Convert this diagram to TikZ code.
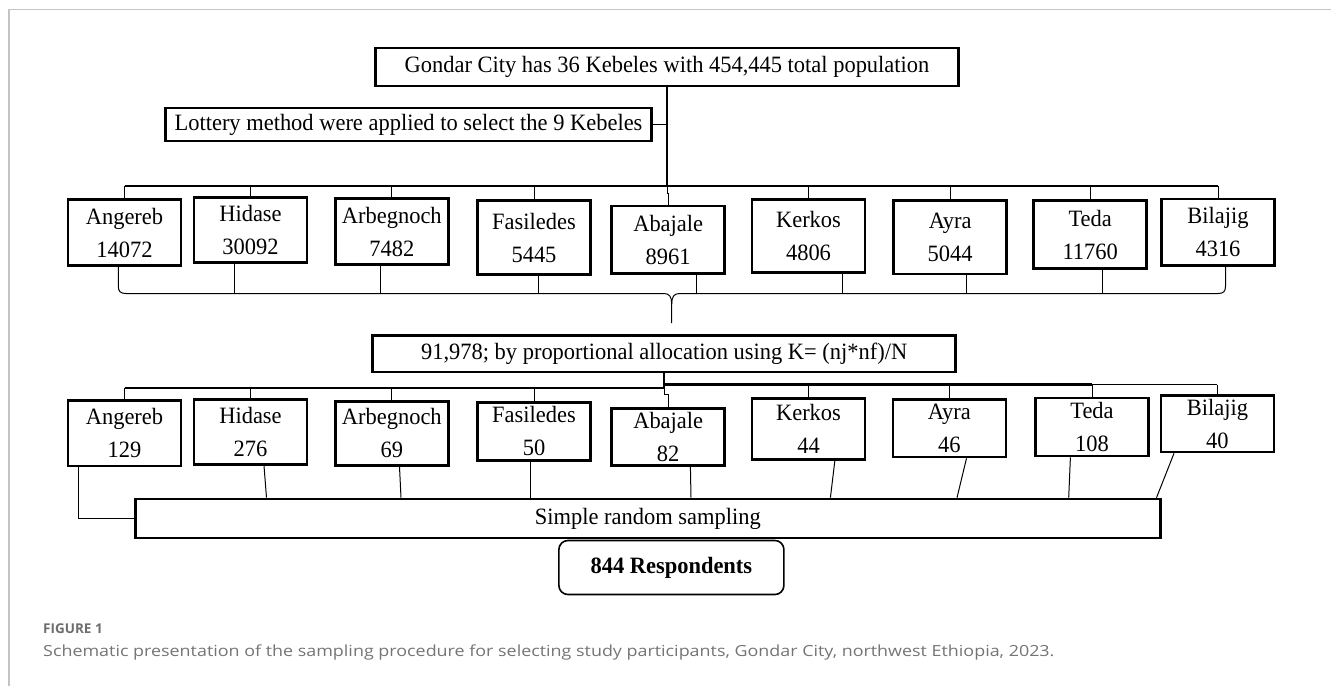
\documentclass[tikz,border=0pt]{standalone}
\usepackage{fontspec}
\setmainfont{Liberation Serif}[FakeStretch=0.96]
\newfontfamily\capfont{Open Sans}[FakeStretch=1.17]
\newfontfamily\figfont{Open Sans}
\usetikzlibrary{calc}
\definecolor{framegrey}{HTML}{C4C4C4}
\definecolor{capgrey}{HTML}{747474}
\definecolor{figgrey}{HTML}{6E6E6E}
\begin{document}
\begin{tikzpicture}[x=1pt,y=-1pt,
  every node/.style={font=\fontsize{23.4}{33}\selectfont},
  wbox/.style={draw, line width=2.6pt, inner sep=0pt, align=center},
  kbox/.style 2 args={wbox, minimum width=113pt, minimum height=#2pt},
  conn/.style={line width=1pt},
  capstyle/.style={anchor=base west, inner sep=0pt}]
\useasboundingbox (0,0) rectangle (1331,686);
\draw[framegrey, line width=1.5pt] (9,686) -- (9,9.3) -- (1331,9.3);

% top part
\node[wbox, minimum width=583pt, minimum height=38pt] (top) at (667,67) {Gondar City has 36 Kebeles with 454,445 total population};
\node[wbox, minimum width=486pt, minimum height=33pt] (lot) at (408.5,124.5) {Lottery method were applied to select the 9 Kebeles};

% row 1
\node[kbox={}{65.7}] (a1) at (124.5,232.5) {Angereb\\14072};
\node[kbox={}{65.4}] (a2) at (250.5,230) {Hidase\\30092};
\node[kbox={}{65.8}] (a3) at (391.8,231.5) {Arbegnoch\\7482};
\node[kbox={}{74.1}] (a4) at (534,237.7) {Fasiledes\\5445};
\node[kbox={}{67.7}] (a5) at (668.2,239.8) {Abajale\\8961};
\node[kbox={}{73.4}] (a6) at (808.5,236) {Kerkos\\4806};
\node[kbox={}{73.4}] (a7) at (950.2,237.3) {Ayra\\5044};
\node[kbox={}{68.4}] (a8) at (1090.2,234.5) {Teda\\11760};
\node[kbox={}{66.4}] (a9) at (1218,232.2) {Bilajig\\4316};

\coordinate (bus1) at (667,186);
\draw[line width=1.6pt] (top.south) -- (bus1);
\draw[line width=1.2pt] (lot.east) -- (lot.east -| bus1);
\draw[line width=2.7pt] (a1.north |- bus1) -- (bus1);
\draw[line width=1.2pt] (bus1) -- (a9.north |- bus1);
\foreach \n in {a1,a2,a3,a4,a6,a7,a8,a9}
  \draw[conn] (\n.north |- bus1) -- (\n.north);
\draw[conn] (bus1) -- ++(0,7) -| (a5.north);

% brace
\coordinate (brline) at (0,293.5);
\coordinate (tip) at (671.7,323);
\draw[conn] ([xshift=-6.2pt]a1.south) -- (118.3,286) .. controls (118.3,291.5) and (120.5,293.5) .. (126,293.5)
  -- (664,293.5) .. controls (669.5,293.5) and (671.7,297) .. (671.7,304) -- (tip);
\draw[conn] (671.7,304) .. controls (671.7,297) and (673.9,293.5) .. (679.4,293.5)
  -- (1218,293.5) .. controls (1223.5,293.5) and (1225.5,291.5) .. (1225.5,286) -- ([xshift=7.5pt]a9.south);
\foreach \n/\s in {a2/-16.5, a3/-11.8, a4/4, a5/28.3, a6/34.3, a7/16, a8/12.3} {
  \path ([xshift=\s pt]\n.south) coordinate (tmp);
  \draw[conn] (tmp) -- (tmp |- brline);
}

% allocation
\node[wbox, minimum width=583pt, minimum height=36.7pt] (alloc) at (664.2,353.7) {91,978; by proportional allocation using K= (nj*nf)/N};

% row 2
\node[kbox={}{65.7}] (b1) at (124.5,433.2) {Angereb\\129};
\node[kbox={}{64.8}] (b2) at (250.5,432) {Hidase\\276};
\node[kbox={}{64.1}] (b3) at (391.8,433.3) {Arbegnoch\\69};
\node[kbox={}{58.1}] (b4) at (534,431.3) {Fasiledes\\50};
\node[kbox={}{56.8}] (b5) at (668.2,437) {Abajale\\82};
\node[kbox={}{61.1}] (b6) at (808.5,429.2) {Kerkos\\44};
\node[kbox={}{57.4}] (b7) at (949.4,428.3) {Ayra\\46};
\node[kbox={}{58}] (b8) at (1092,427) {Teda\\108};
\node[kbox={}{56.4}] (b9) at (1217.4,423.8) {Bilajig\\40};

\coordinate (bus2L) at (664.2,387.5);
\coordinate (bus2R) at (664.2,384.7);
\draw[line width=1.6pt] (alloc.south) -- (bus2L);
\draw[line width=2pt] (b1.north |- bus2L) -- (bus2L);
\draw[line width=3.5pt] (bus2R) -- (b8.north |- bus2R);
\draw[line width=1.2pt] (b8.north |- bus2R) -- (b9.north |- bus2R);
\foreach \n in {b1,b2,b3,b4}
  \draw[conn] (\n.north |- bus2L) -- (\n.north);
\foreach \n in {b6,b7,b8,b9}
  \draw[conn] (\n.north |- bus2R) -- (\n.north);
\draw[conn] (bus2L) -- ++(0,6.5) -| (b5.north);

% simple random sampling
\node[wbox, minimum width=1025pt, minimum height=39pt] (srs) at (647.9,518.5) {Simple random sampling};
\path ([xshift=-46.5pt]b1.south) coordinate (p1);
\draw[conn] (p1) |- (srs.west);
\foreach \n/\s/\e in {b2/13.5/16, b3/7.7/9.2, b4/-4/-4, b5/22.2/22.8, b6/26.3/21.9, b7/17.1/7.6, b8/-21.6/-23.3, b9/-43.4/-60.9} {
  \path ([xshift=\s pt]\n.south) coordinate (p);
  \path ([xshift=\e pt]\n.south) coordinate (q);
  \draw[conn] (p) -- (q |- srs.north);
}

\node[draw, line width=1.6pt, rounded corners=9pt, minimum width=225pt, minimum height=54pt, inner sep=0pt,
  font=\fontsize{23.4}{27}\selectfont\bfseries] (resp) at (671.4,567.5) {844 Respondents};

% caption
\node[capstyle, text=figgrey, font=\figfont\bfseries\fontsize{13.5}{16}\selectfont] (fig) at (43,633) {FIGURE 1};
\node[capstyle, text=capgrey, font=\capfont\fontsize{15.3}{19}\selectfont] (cap) at (43,656.5) {Schematic presentation of the sampling procedure for selecting study participants, Gondar City, northwest Ethiopia, 2023.};
\end{tikzpicture}
\end{document}
